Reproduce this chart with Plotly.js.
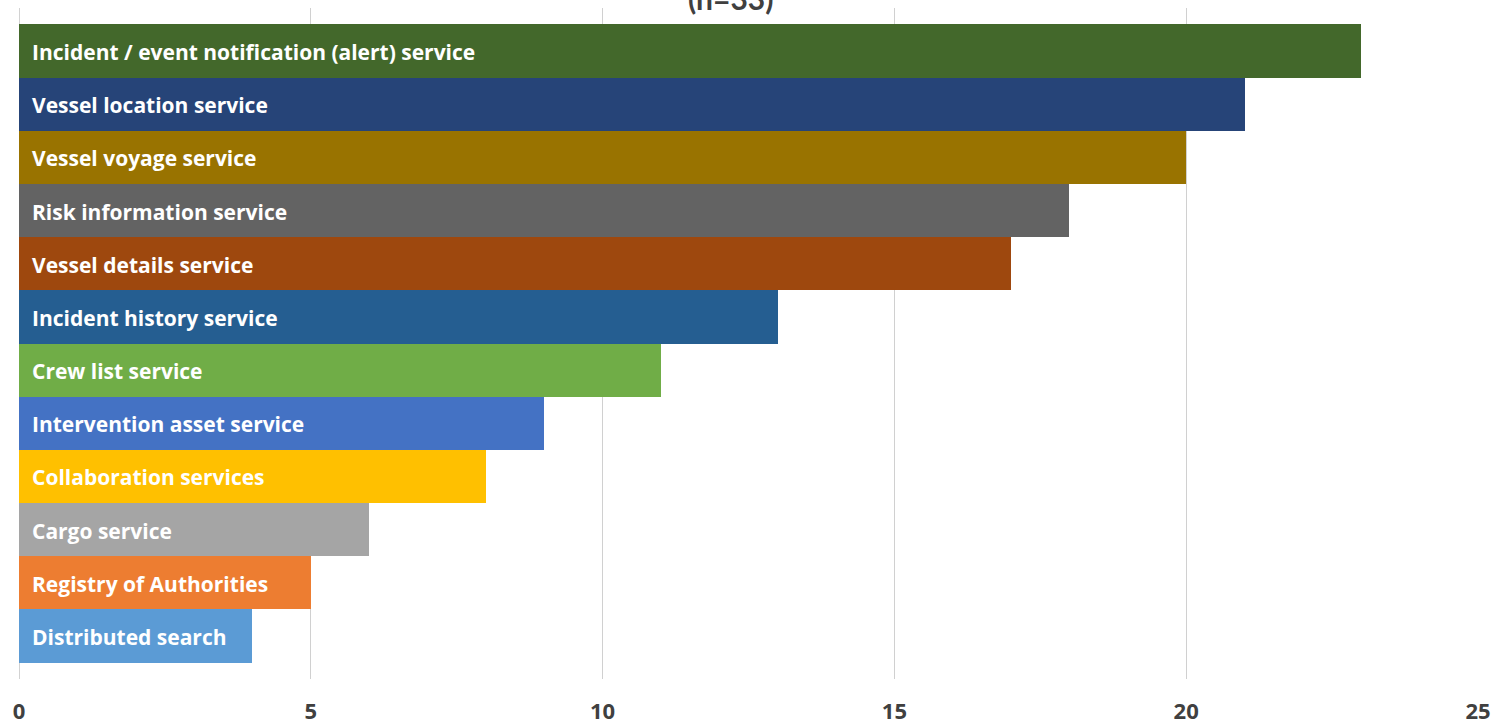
<!DOCTYPE html>
<html><head><meta charset="utf-8">
<script src="https://cdn.plot.ly/plotly-3.0.1.min.js"></script>
<style>html,body{margin:0;padding:0;background:#fff;}#chart{width:1499px;height:727px;}</style>
</head><body><div id="chart"></div>
<script>
const categories = [
  "Incident / event notification (alert) service",
  "Vessel location service",
  "Vessel voyage service",
  "Risk information service",
  "Vessel details service",
  "Incident history service",
  "Crew list service",
  "Intervention asset service",
  "Collaboration services",
  "Cargo service",
  "Registry of Authorities",
  "Distributed search"
];
const values = [23, 21, 20, 18, 17, 13, 11, 9, 8, 6, 5, 4];
const colors = ["#43682b","#264478","#997300","#636363","#9e480e","#255e91","#70ad47","#4472c4","#ffc000","#a5a5a5","#ed7d31","#5b9bd5"];
const xTicks = [0, 5, 10, 15, 20, 25];
const subtitle = "(n=33)";

const trace = {
  type: "bar", orientation: "h",
  x: values, y: categories,
  marker: {color: colors, line: {width: 0}},
  hoverinfo: "x+y"
};
const annotations = categories.map((c) => ({
  x: 0, y: c, xref: "x", yref: "y", text: c, showarrow: false,
  xanchor: "left", yanchor: "middle", xshift: 11, yshift: -1,
  font: {family: "'Open Sans', sans-serif", size: 21, color: "#ffffff", weight: 700}
}));
annotations.push({
  x: 0.488, y: 1, xref: "paper", yref: "paper", yanchor: "bottom", yshift: -10,
  text: "<b>" + subtitle + "</b>", showarrow: false,
  font: {family: "Lato, sans-serif", size: 30, color: "#404040"}
});
const layout = {
  width: 1499, height: 727,
  margin: {l: 19, r: 21, t: 8, b: 48},
  paper_bgcolor: "#ffffff", plot_bgcolor: "#ffffff",
  bargap: 0,
  showlegend: false,
  xaxis: {
    range: [0, 25], tickvals: xTicks, ticktext: xTicks.map(String),
    showgrid: true, gridcolor: "#d0d0d0", gridwidth: 1,
    zeroline: false, showline: false, ticks: "",
    ticklabelstandoff: 17,
    tickfont: {family: "'Open Sans', sans-serif", size: 22, color: "#404040", weight: 700}
  },
  yaxis: {
    type: "category", range: [11.81, -0.81],
    showticklabels: false, showgrid: false, zeroline: false, showline: false, ticks: ""
  },
  shapes: [{type: "line", xref: "x", yref: "paper", x0: 0, x1: 0, y0: 0, y1: 1, line: {color: "#a6a6a6", width: 1}, layer: "below"}],
  annotations: annotations
};
Plotly.newPlot("chart", [trace], layout, {displayModeBar: false, staticPlot: true});
</script></body></html>
